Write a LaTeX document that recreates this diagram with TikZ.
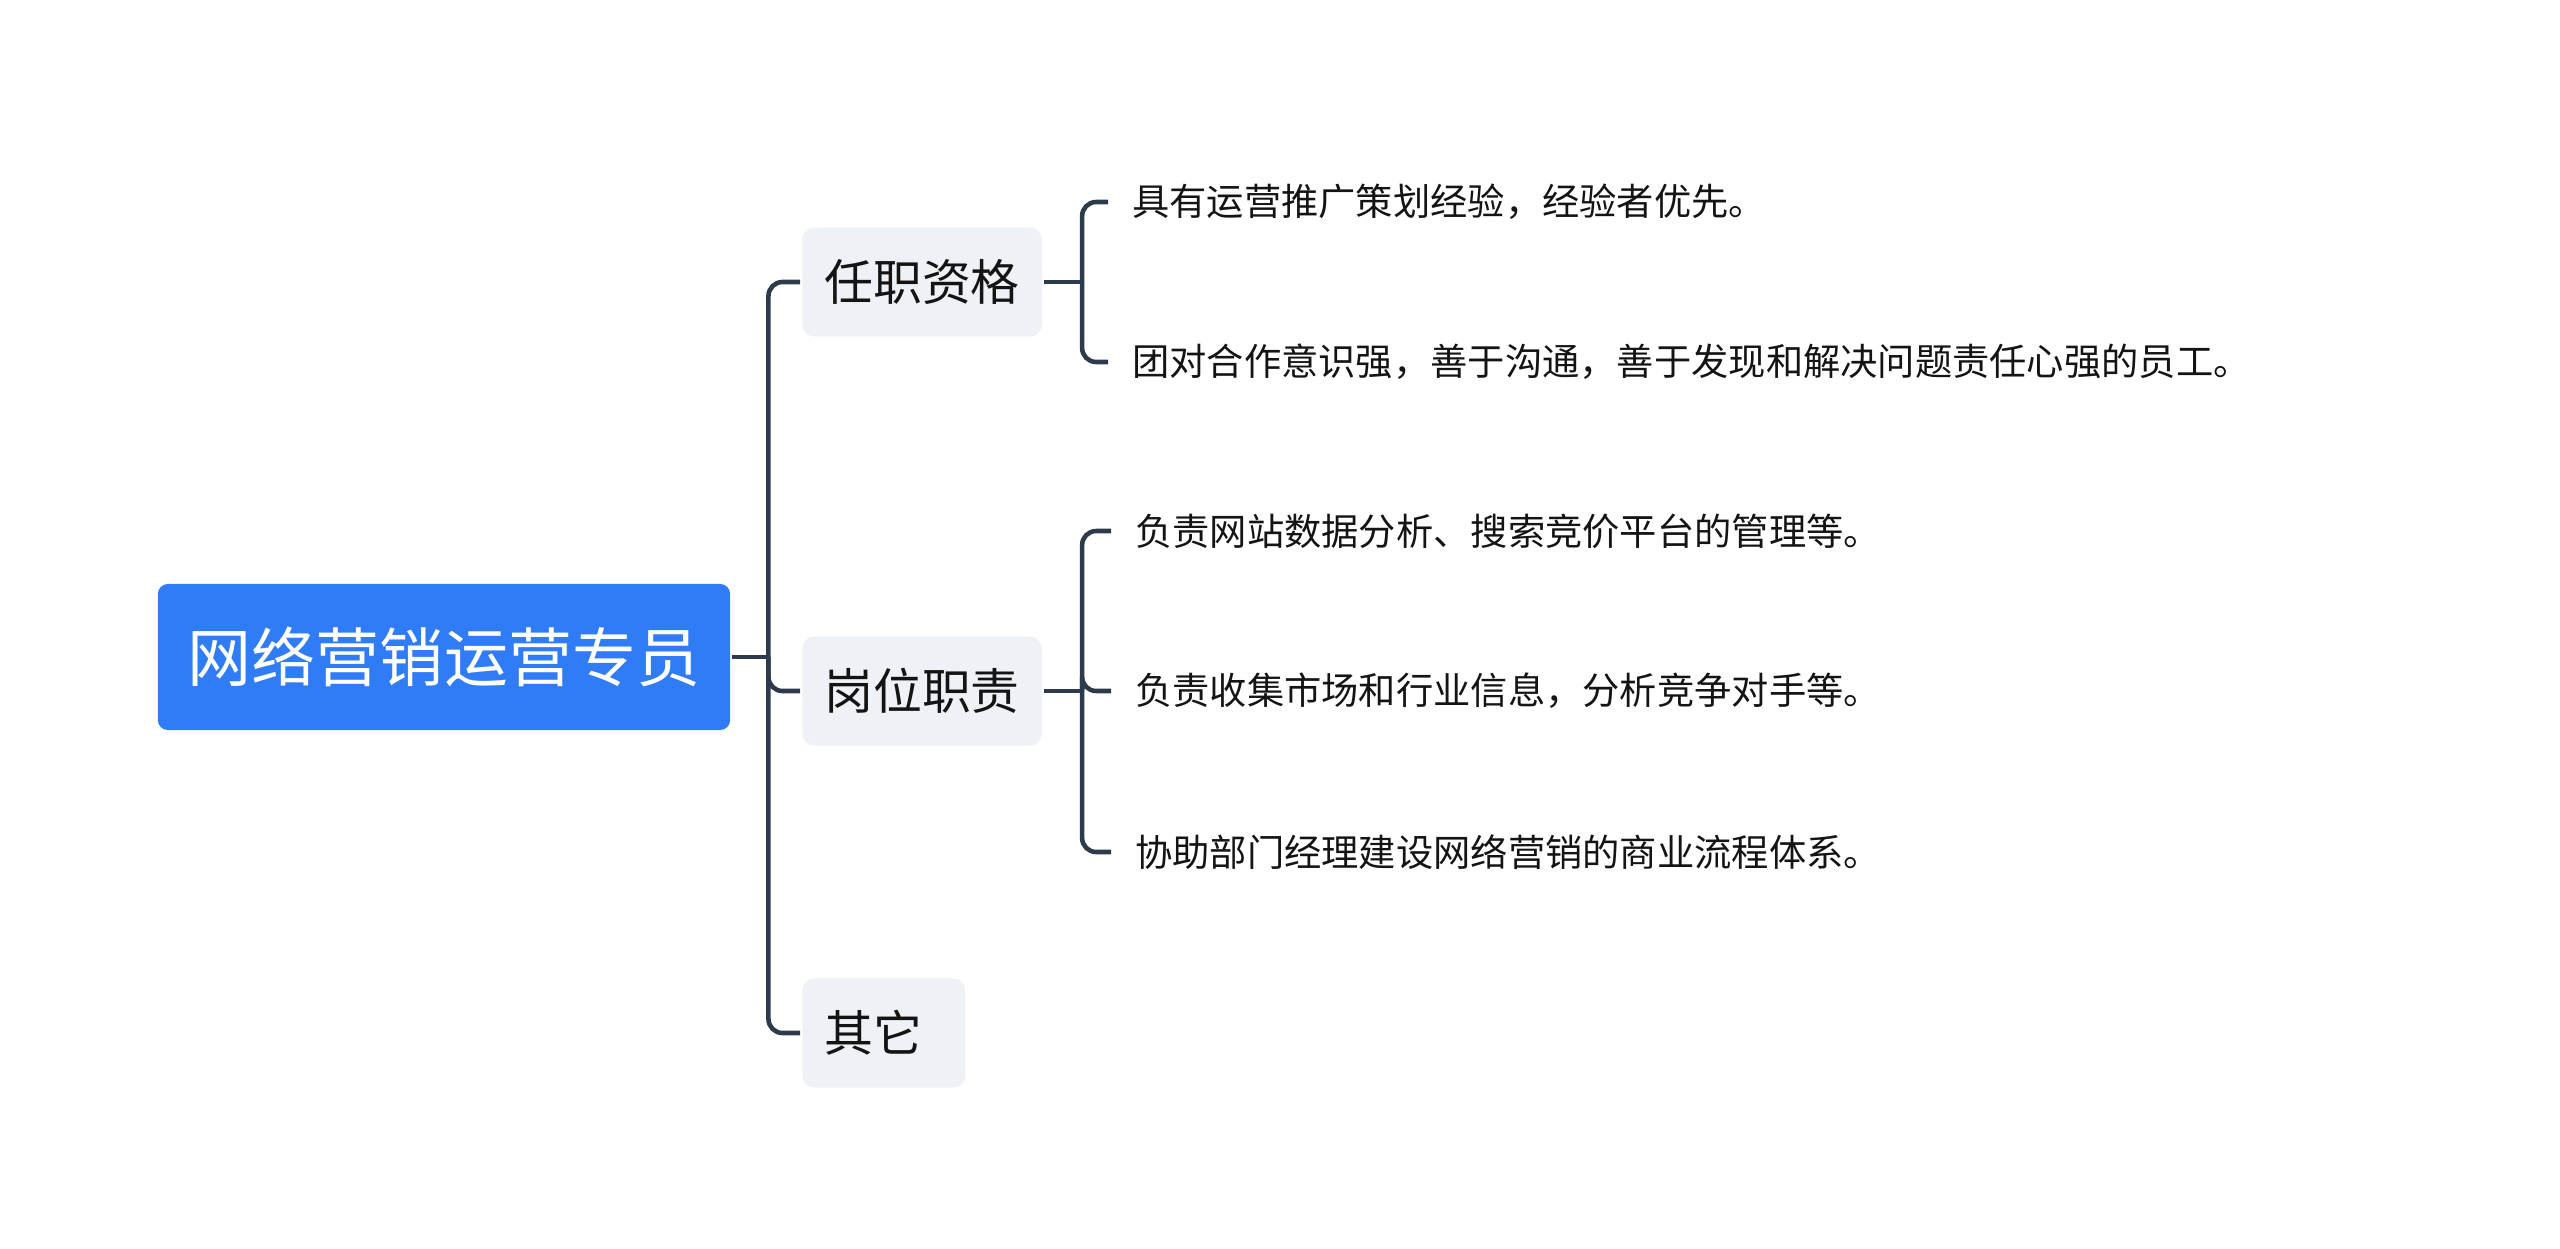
\documentclass[tikz,border=0pt]{standalone}
\usepackage{fontspec}
\setmainfont{Noto Sans CJK SC}
\definecolor{rootblue}{HTML}{2F7CF6}
\definecolor{boxgray}{HTML}{EEF1F5}
\definecolor{linkgray}{HTML}{2D3A4B}
\definecolor{leafink}{HTML}{141414}

\begin{document}
\begin{tikzpicture}[x=0.01cm, y=-0.01cm, line width=1.3pt,
    root/.style={fill=rootblue, text=white, rounded corners=0.1cm, minimum width=5.72cm, minimum height=1.46cm, font=\fontsize{18.2}{22}\selectfont},
    topic/.style={fill=boxgray, text=leafink, rounded corners=0.12cm, anchor=west, minimum height=1.09cm, inner xsep=0.22cm, font=\fontsize{13.9}{17}\selectfont},
    leaf/.style={anchor=west, text=leafink, inner xsep=0.22cm, font=\fontsize{10.6}{13}\selectfont},
    link/.style={draw=linkgray, rounded corners=0.14cm}]
    \useasboundingbox (0,0) rectangle (2560,1248);
    % tema central
    \node[root] (zy) at (444,657) {网络营销运营专员};
    % ramos
    \node[topic] (rzzg) at (800,282) {任职资格};
    \node[topic] (gwzz) at (800,691) {岗位职责};
    \node[topic, text width=1.19cm, align=left] (qt) at (800,1033) {其它};
    % folhas
    \node[leaf] (rz1) at (1108,202) {具有运营推广策划经验，经验者优先。};
    \node[leaf] (rz2) at (1108,362) {团对合作意识强，善于沟通，善于发现和解决问题责任心强的员工。};
    \node[leaf] (gw1) at (1111,531) {负责网站数据分析、搜索竞价平台的管理等。};
    \node[leaf] (gw2) at (1111,691) {负责收集市场和行业信息，分析竞争对手等。};
    \node[leaf] (gw3) at (1111,852) {协助部门经理建设网络营销的商业流程体系。};
    % tronco
    \draw[link] (zy.east) -- ++(36,0) coordinate (t0);
    \foreach \b in {rzzg,gwzz,qt} \draw[link] (t0) |- (\b.west);
    % chaves
    \draw[link] (rzzg.east) -- ++(38,0) coordinate (t1);
    \foreach \f in {rz1,rz2} \draw[link] (t1) |- (\f.west);
    \draw[link] (gwzz.east) -- ++(38,0) coordinate (t2);
    \foreach \f in {gw1,gw2,gw3} \draw[link] (t2) |- (\f.west);
\end{tikzpicture}
\end{document}
